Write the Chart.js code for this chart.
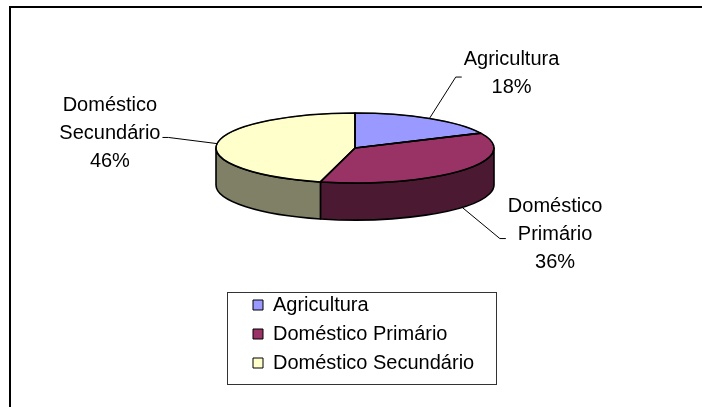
<!DOCTYPE html>
<html>
<head>
<meta charset="utf-8">
<script src="https://cdn.jsdelivr.net/npm/chart.js@4.4.0/dist/chart.umd.min.js"></script>
<style>
html, body { margin: 0; padding: 0; background: #fff; overflow: hidden; }
#box { position: relative; width: 702px; height: 407px; }
#cornice { position: absolute; left: 9px; top: 6px; width: 800px; height: 500px; border: 2px solid #000; }
#grafico { position: absolute; left: 0; top: 0; }
</style>
</head>
<body>
<div id="box">
    <div id="cornice"></div>
    <canvas id="grafico" width="702" height="407"></canvas>
</div>
<script>
var categorie = ["Agricultura", "Doméstico Primário", "Doméstico Secundário"];
var valori = [18, 36, 46];
var coloriTopo = ["#9999FF", "#993366", "#FFFFCC"];
var coloriLato = ["#4C4C80", "#4C1933", "#808066"];

// aspetto "3D" stile Excel
const INCLINAZIONE = 0.252;   // schiacciamento verticale del disco
const SPESSORE = 37;          // altezza del bordo laterale
const LEADER = 49;
const FONT = '20px "Liberation Sans", Arial, sans-serif';

const torta3d = {
    id: 'torta3d',
    beforeDatasetsDraw(chart) {
        const ctx = chart.ctx;
        const meta = chart.getDatasetMeta(0);
        ctx.save();
        ctx.lineWidth = 1.6;
        ctx.strokeStyle = '#000';
        ctx.lineJoin = 'round';
        meta.data.forEach((arc, i) => {
            [0, 2 * Math.PI, -2 * Math.PI].forEach(k => {
                const a0 = Math.max(arc.startAngle, k);
                const a1 = Math.min(arc.endAngle, k + Math.PI);
                if (a1 <= a0) return;
                const ry = arc.outerRadius * INCLINAZIONE;
                ctx.beginPath();
                ctx.ellipse(arc.x, arc.y, arc.outerRadius, ry, 0, a0, a1);
                ctx.ellipse(arc.x, arc.y + SPESSORE, arc.outerRadius, ry, 0, a1, a0, true);
                ctx.closePath();
                ctx.fillStyle = coloriLato[i];
                ctx.fill();
                ctx.stroke();
            });
        });
        ctx.restore();
    },
    beforeDatasetDraw(chart) {
        const ctx = chart.ctx;
        const arc = chart.getDatasetMeta(0).data[0];
        ctx.save();
        ctx.translate(0, arc.y);
        ctx.scale(1, INCLINAZIONE);
        ctx.translate(0, -arc.y);
    },
    afterDatasetDraw(chart) {
        const ctx = chart.ctx;
        ctx.restore();
        ctx.save();
        ctx.lineWidth = 1.6;
        ctx.strokeStyle = '#000';
        ctx.lineJoin = 'round';
        chart.getDatasetMeta(0).data.forEach(arc => {
            ctx.beginPath();
            ctx.moveTo(arc.x, arc.y);
            ctx.ellipse(arc.x, arc.y, arc.outerRadius, arc.outerRadius * INCLINAZIONE, 0, arc.startAngle, arc.endAngle);
            ctx.closePath();
            ctx.stroke();
        });
        ctx.restore();
    }
};

const etichette = {
    id: 'etichette',
    afterLayout(chart) {
        // allarga l'area della legenda, altrimenti l'ultima voce viene tagliata
        chart.legend.right += 40;
        chart.legend.width += 40;
    },
    afterDraw(chart) {
        const ctx = chart.ctx;
        const meta = chart.getDatasetMeta(0);
        const totale = valori.reduce((a, b) => a + b, 0);
        ctx.save();
        ctx.font = FONT;
        ctx.fillStyle = '#000';
        ctx.strokeStyle = '#000';
        ctx.lineWidth = 1;
        ctx.textAlign = 'center';
        ctx.textBaseline = 'middle';
        meta.data.forEach((arc, i) => {
            const m = (arc.startAngle + arc.endAngle) / 2;
            const c = Math.cos(m), s = Math.sin(m);
            const x0 = arc.x + arc.outerRadius * c;
            const y0 = arc.y + arc.outerRadius * INCLINAZIONE * s + (s > 0 ? SPESSORE : 0);
            const x1 = x0 + LEADER * c, y1 = y0 + LEADER * s;
            const dir = c >= 0 ? 1 : -1;
            const x2 = x1 + 6 * dir;
            ctx.beginPath();
            ctx.moveTo(x0, y0);
            ctx.lineTo(x1, y1);
            ctx.lineTo(x2, y1);
            ctx.stroke();
            const righe = categorie[i].split(' ').concat([Math.round(valori[i] / totale * 100) + '%']);
            const w = Math.max(...righe.map(r => ctx.measureText(r).width));
            const cx = x2 + dir * (2 + w / 2);
            righe.forEach((r, j) => ctx.fillText(r, cx, y1 - 4 + (j - (righe.length - 1) / 2) * 28));
        });

        // cornice della legenda
        const hb = chart.legend.legendHitBoxes;
        if (hb && hb.length) {
            const sx = Math.min(...hb.map(h => h.left)) - 26;
            const dx = Math.max(...hb.map(h => h.left + h.width)) + 22;
            const su = hb[0].top - 3;
            const giu = hb[hb.length - 1].top + hb[hb.length - 1].height + 11;
            ctx.strokeStyle = '#333';
            ctx.strokeRect(Math.round(sx) + 0.5, Math.round(su) + 0.5, Math.round(dx - sx), Math.round(giu - su));
        }
        ctx.restore();
    }
};

document.addEventListener("DOMContentLoaded", () => {
    const context = document.getElementById("grafico").getContext("2d");
    new Chart(context, {
        type: 'pie',
        data: {
            labels: categorie,
            datasets: [{
                data: valori,
                backgroundColor: coloriTopo,
                borderColor: '#000',
                borderWidth: 1,
                radius: 139,
                clip: false,
                hoverOffset: 0
            }]
        },
        options: {
            responsive: false,
            animation: false,
            events: [],
            layout: {
                padding: { left: 244, right: 236, top: 10, bottom: 24 }
            },
            plugins: {
                tooltip: { enabled: false },
                legend: {
                    position: 'bottom',
                    align: 'start',
                    fullSize: false,
                    labels: {
                        boxWidth: 10,
                        boxHeight: 10,
                        padding: 9,
                        color: '#000',
                        font: { family: '"Liberation Sans", Arial, sans-serif', size: 20 }
                    }
                }
            }
        },
        plugins: [torta3d, etichette]
    });
});
</script>
</body>
</html>
